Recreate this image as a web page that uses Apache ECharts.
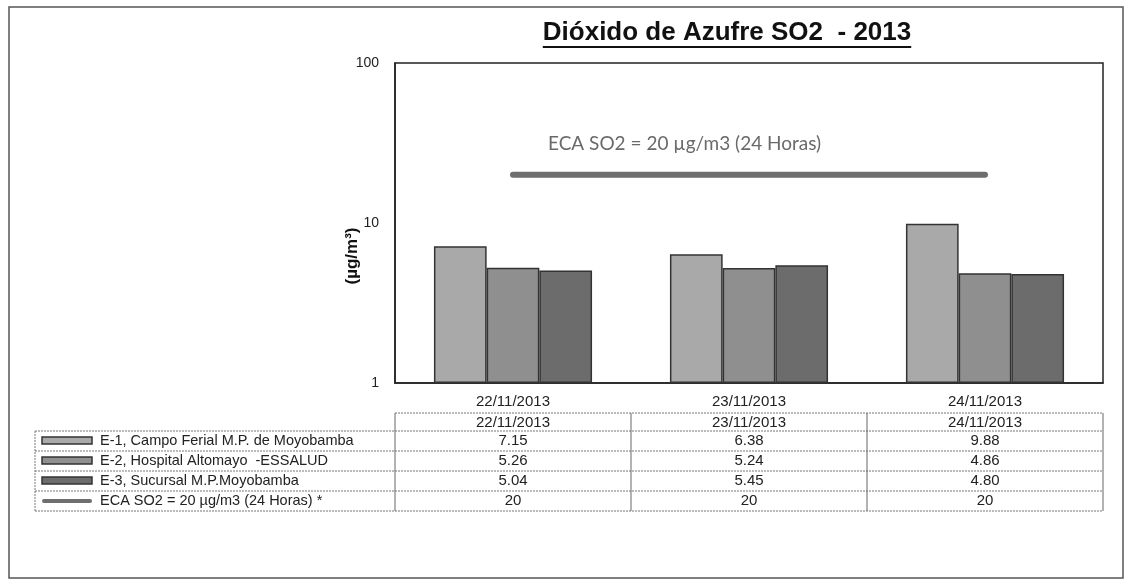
<!DOCTYPE html>
<html>
<head>
<meta charset="utf-8">
<script src="https://cdn.jsdelivr.net/npm/echarts@6/dist/echarts.min.js"></script>
<style>
  html, body { margin: 0; padding: 0; background: #fff; }
  #chart { width: 1129px; height: 584px; }
</style>
</head>
<body>
<div id="chart"></div>
<script>
// datos SO2 (ug/m3) por estacion
const categories = ['22/11/2013', '23/11/2013', '24/11/2013'];
const e1 = [7.15, 6.38, 9.88];
const e2 = [5.26, 5.24, 4.86];
const e3 = [5.04, 5.45, 4.80];
const eca = [20, 20, 20];
const seriesNames = [
  'E-1, Campo Ferial M.P. de Moyobamba',
  'E-2, Hospital Altomayo  -ESSALUD',
  'E-3, Sucursal M.P.Moyobamba',
  'ECA SO2 = 20 µg/m3 (24 Horas) *'
];
const colors = ['#a9a9a9', '#8f8f8f', '#6c6c6c', '#6e6e6e'];
const titleText = 'Dióxido de Azufre SO2  - 2013';
const ecaLabel = 'ECA SO2 = 20 µg/m3 (24 Horas)';

const FONT = '"Liberation Sans", Arial, sans-serif';
const gridLeft = 395, gridRight = 26, gridTop = 63, gridBottom = 201;

let chart = echarts.init(document.getElementById('chart'));

const barStyle = (c) => ({ color: c, borderColor: '#333', borderWidth: 1.5 });

chart.setOption({
  animation: false,
  backgroundColor: '#fff',
  grid: {
    left: gridLeft, right: gridRight, top: gridTop, bottom: gridBottom,
    show: true, borderColor: '#222', borderWidth: 1.5, backgroundColor: 'transparent'
  },
  xAxis: {
    type: 'category',
    data: categories,
    axisLine: { lineStyle: { color: '#222', width: 1.5 } },
    axisTick: { show: false },
    axisLabel: { fontFamily: FONT, fontSize: 15, color: '#222', margin: 11 }
  },
  yAxis: {
    type: 'log',
    logBase: 10,
    min: 1,
    max: 100,
    axisLine: { show: true, lineStyle: { color: '#222', width: 1.5 } },
    axisTick: { show: false },
    splitLine: { show: false },
    axisLabel: { fontFamily: FONT, fontSize: 14, color: '#222', margin: 16 }
  },
  series: [
    { name: seriesNames[0], type: 'bar', data: e1, itemStyle: barStyle(colors[0]), barGap: '0%', barCategoryGap: '33%' },
    { name: seriesNames[1], type: 'bar', data: e2, itemStyle: barStyle(colors[1]) },
    { name: seriesNames[2], type: 'bar', data: e3, itemStyle: barStyle(colors[2]) },
    {
      name: seriesNames[3], type: 'line', data: eca, symbol: 'none',
      lineStyle: { color: colors[3], width: 6, cap: 'round' }, z: 5
    }
  ]
});

// medir texto del titulo para el subrayado
function textWidth(txt, font) {
  let ctx = document.createElement('canvas').getContext('2d');
  ctx.font = font;
  return ctx.measureText(txt).width;
}

function buildGraphics() {
  let g = [];
  let W = 1129;
  // marco exterior
  g.push({ type: 'rect', shape: { x: 9, y: 7, width: 1114, height: 571 },
    style: { fill: 'none', stroke: '#555', lineWidth: 1.5 }, silent: true });

  // titulo subrayado
  let tx = 727, ty = 33;
  let tFont = 'bold 26px "Liberation Sans", Arial';
  let tw = textWidth(titleText, tFont);
  g.push({ type: 'text', x: tx, y: ty, style: { text: titleText, font: tFont,
    fill: '#111', align: 'center', verticalAlign: 'middle' } });
  g.push({ type: 'line', shape: { x1: tx - tw / 2, y1: ty + 14, x2: tx + tw / 2, y2: ty + 14 },
    style: { stroke: '#111', lineWidth: 2 } });

  // nombre eje y
  g.push({ type: 'text', x: 352, y: 256, rotation: Math.PI / 2,
    style: { text: '(µg/m³)', font: 'bold 17px "Liberation Sans", Arial', fill: '#111',
      align: 'center', verticalAlign: 'middle' } });

  // etiqueta ECA
  let p0 = chart.convertToPixel({ xAxisIndex: 0, yAxisIndex: 0 }, [0, eca[0]]);
  g.push({ type: 'text', x: p0[0] + 35, y: p0[1] - 31,
    style: { text: ecaLabel, font: '19px Lato, "Open Sans", sans-serif', fill: '#6a6a6a',
      align: 'left', verticalAlign: 'middle' } });

  // tabla de datos
  let xL = 35, x0 = gridLeft, x1 = W - gridRight;
  let colW = (x1 - x0) / categories.length;
  let rowTop = 413, hdrH = 18, rowH = 20;
  let dash = { stroke: '#777', lineWidth: 1, lineDash: [2, 1] };
  let solid = { stroke: '#666', lineWidth: 1 };
  let numFont = '15px "Liberation Sans", Arial';
  // cabecera
  g.push({ type: 'line', shape: { x1: x0, y1: rowTop, x2: x1, y2: rowTop }, style: dash });
  categories.forEach((c, i) => {
    let cx = chart.convertToPixel({ xAxisIndex: 0 }, i);
    g.push({ type: 'text', x: cx, y: rowTop + hdrH / 2 + 1,
      style: { text: c, font: numFont, fill: '#222', align: 'center', verticalAlign: 'middle' } });
  });
  let bodyTop = rowTop + hdrH;
  let rows = [e1, e2, e3, eca];
  for (let r = 0; r <= rows.length; r++) {
    let y = bodyTop + r * rowH;
    g.push({ type: 'line', shape: { x1: xL, y1: y, x2: x1, y2: y }, style: dash });
  }
  let bodyBottom = bodyTop + rows.length * rowH;
  g.push({ type: 'line', shape: { x1: xL, y1: bodyTop, x2: xL, y2: bodyBottom }, style: dash });
  for (let i = 0; i <= categories.length; i++) {
    let x = x0 + i * colW;
    g.push({ type: 'line', shape: { x1: x, y1: rowTop, x2: x, y2: bodyBottom }, style: solid });
  }
  rows.forEach((vals, r) => {
    let cy = bodyTop + r * rowH + rowH / 2;
    if (r < 3) {
      g.push({ type: 'rect', shape: { x: 42, y: cy - 4, width: 50, height: 7 },
        style: { fill: colors[r], stroke: '#333', lineWidth: 1.5 } });
    } else {
      g.push({ type: 'line', shape: { x1: 44, y1: cy, x2: 90, y2: cy },
        style: { stroke: colors[3], lineWidth: 4, lineCap: 'round' } });
    }
    g.push({ type: 'text', x: 100, y: cy,
      style: { text: seriesNames[r], font: '14.5px "Liberation Sans", Arial', fill: '#222', verticalAlign: 'middle' } });
    vals.forEach((v, i) => {
      let cx = chart.convertToPixel({ xAxisIndex: 0 }, i);
      let s = r < 3 ? v.toFixed(2) : String(v);
      g.push({ type: 'text', x: cx, y: cy,
        style: { text: s, font: numFont, fill: '#222', align: 'center', verticalAlign: 'middle' } });
    });
  });
  chart.setOption({ graphic: { elements: g } });
}

buildGraphics();
</script>
</body>
</html>
